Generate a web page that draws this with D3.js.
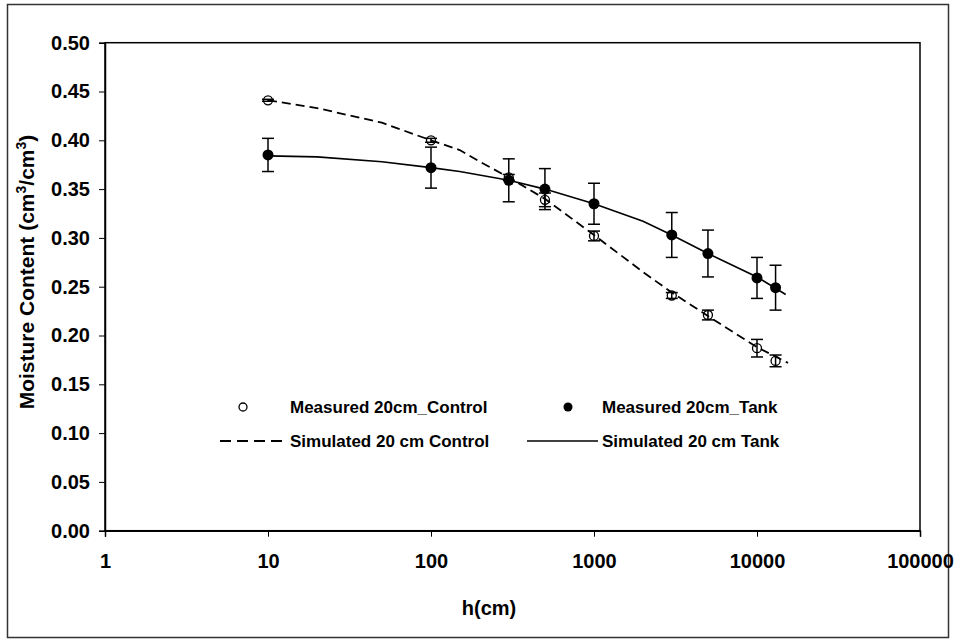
<!DOCTYPE html>
<html>
<head>
<meta charset="utf-8">
<script src="https://cdn.jsdelivr.net/npm/d3@7"></script>
<style>
  html, body { margin: 0; padding: 0; background: #fff; }
  svg { display: block; font-family: "Liberation Sans", Arial, sans-serif; }
</style>
</head>
<body>
<svg id="chart" width="956" height="642"></svg>
<script>
// ---- data ----
const hMeasured = [10, 100, 300, 500, 1000, 3000, 5000, 10000, 13000];
const controlMeasured = [0.441, 0.400, 0.362, 0.339, 0.302, 0.241, 0.221, 0.187, 0.174];
const controlErr = [0.001, 0.002, 0.003, 0.007, 0.005, 0.003, 0.005, 0.009, 0.006];
const tankMeasured = [0.385, 0.372, 0.359, 0.350, 0.335, 0.303, 0.284, 0.259, 0.249];
const tankErr = [0.017, 0.021, 0.022, 0.021, 0.021, 0.023, 0.024, 0.021, 0.023];

const hSimControl = [10, 20, 50, 100, 150, 200, 300, 500, 1000, 2000, 3000, 5000, 10000, 15500];
const controlSim = [0.441, 0.433, 0.418, 0.400, 0.390, 0.378, 0.362, 0.340, 0.303, 0.265, 0.244, 0.220, 0.188, 0.172];
const hSimTank = [10, 20, 50, 100, 150, 300, 500, 1000, 2000, 3000, 5000, 10000, 15000];
const tankSim = [0.384, 0.383, 0.378, 0.372, 0.368, 0.359, 0.350, 0.335, 0.317, 0.303, 0.284, 0.260, 0.242];

const xTicks = [1, 10, 100, 1000, 10000, 100000];
const yTicks = [0, 0.05, 0.10, 0.15, 0.20, 0.25, 0.30, 0.35, 0.40, 0.45, 0.50];

const legendLabels = ["Measured 20cm_Control", "Measured 20cm_Tank", "Simulated 20 cm Control", "Simulated 20 cm Tank"];

// ---- layout ----
const svg = d3.select("#chart");
const plot = { left: 105, right: 920, top: 42.7, bottom: 530.7 };

// outer frame
svg.append("rect").attr("x", 7.5).attr("y", 4.5).attr("width", 941).attr("height", 633)
  .attr("fill", "#fff").attr("stroke", "#333").attr("stroke-width", 1.5);

const x = d3.scaleLog().domain([1, 100000]).range([plot.left, plot.right]);
const y = d3.scaleLinear().domain([0, 0.5]).range([plot.bottom, plot.top]);

// plot area border
svg.append("rect").attr("x", plot.left).attr("y", plot.top)
  .attr("width", plot.right - plot.left).attr("height", plot.bottom - plot.top)
  .attr("fill", "none").attr("stroke", "#000").attr("stroke-width", 1.5);

// axes
const yAxis = d3.axisLeft(y).tickValues(yTicks).tickFormat(d3.format(".2f")).tickSize(6).tickPadding(9);
const gy = svg.append("g").attr("transform", `translate(${plot.left},0)`).call(yAxis);
const xAxis = d3.axisBottom(x).tickValues(xTicks).tickFormat(d3.format("d")).tickSize(6).tickPadding(17);
const gx = svg.append("g").attr("transform", `translate(0,${plot.bottom})`).call(xAxis);
[gx, gy].forEach(g => {
  g.select(".domain").attr("stroke", "#000").attr("stroke-width", 1.5);
  g.selectAll(".tick line").attr("stroke", "#000").attr("stroke-width", 1);
  g.selectAll(".tick text").attr("fill", "#000").attr("font-size", 20).attr("font-weight", "bold")
    .attr("font-family", "'Liberation Sans', Arial, sans-serif");
});

// axis titles
svg.append("text").attr("x", 489).attr("y", 615).attr("text-anchor", "middle")
  .attr("font-size", 20).attr("font-weight", "bold").text("h(cm)");

const yt = svg.append("text").attr("transform", "translate(34,272) rotate(-90)")
  .attr("text-anchor", "middle").attr("font-size", 21).attr("font-weight", "bold");
yt.append("tspan").text("Moisture Content (cm");
yt.append("tspan").attr("font-size", 14).attr("dy", -8).text("3");
yt.append("tspan").attr("dy", 8).text("/cm");
yt.append("tspan").attr("font-size", 14).attr("dy", -8).text("3");
yt.append("tspan").attr("dy", 8).text(")");

// lines
const lineGen = d3.line().x(d => x(d[0])).y(d => y(d[1]));
svg.append("path").datum(hSimControl.map((h, i) => [h, controlSim[i]]))
  .attr("d", lineGen).attr("fill", "none").attr("stroke", "#000")
  .attr("stroke-width", 1.8).attr("stroke-dasharray", "9,5");
svg.append("path").datum(hSimTank.map((h, i) => [h, tankSim[i]]))
  .attr("d", lineGen).attr("fill", "none").attr("stroke", "#000").attr("stroke-width", 1.6);

// error bars
function errorBars(vals, errs) {
  const g = svg.append("g").attr("stroke", "#000").attr("stroke-width", 1.5);
  hMeasured.forEach((h, i) => {
    const cx = x(h), y1 = y(vals[i] + errs[i]), y2 = y(vals[i] - errs[i]);
    g.append("line").attr("x1", cx).attr("x2", cx).attr("y1", y1).attr("y2", y2);
    g.append("line").attr("x1", cx - 6).attr("x2", cx + 6).attr("y1", y1).attr("y2", y1);
    g.append("line").attr("x1", cx - 6).attr("x2", cx + 6).attr("y1", y2).attr("y2", y2);
  });
}
errorBars(controlMeasured, controlErr);
errorBars(tankMeasured, tankErr);

// markers
svg.append("g").selectAll("circle").data(hMeasured.map((h, i) => [h, controlMeasured[i]]))
  .join("circle").attr("cx", d => x(d[0])).attr("cy", d => y(d[1])).attr("r", 4.5)
  .attr("fill", "none").attr("stroke", "#000").attr("stroke-width", 1.3);
svg.append("g").selectAll("circle").data(hMeasured.map((h, i) => [h, tankMeasured[i]]))
  .join("circle").attr("cx", d => x(d[0])).attr("cy", d => y(d[1])).attr("r", 5.5)
  .attr("fill", "#000");

// legend
const lg = svg.append("g").attr("font-size", 17).attr("font-weight", "bold");
const row1 = 407, row2 = 441;
lg.append("circle").attr("cx", 243).attr("cy", row1).attr("r", 4).attr("fill", "none").attr("stroke", "#000").attr("stroke-width", 1.3);
lg.append("text").attr("x", 290).attr("y", row1).attr("dy", "0.35em").text(legendLabels[0]);
lg.append("circle").attr("cx", 568).attr("cy", row1).attr("r", 4.5).attr("fill", "#000");
lg.append("text").attr("x", 602).attr("y", row1).attr("dy", "0.35em").text(legendLabels[1]);
lg.append("line").attr("x1", 220).attr("x2", 286).attr("y1", row2).attr("y2", row2)
  .attr("stroke", "#000").attr("stroke-width", 1.8).attr("stroke-dasharray", "11,6");
lg.append("text").attr("x", 290).attr("y", row2).attr("dy", "0.35em").text(legendLabels[2]);
lg.append("line").attr("x1", 527).attr("x2", 598).attr("y1", row2).attr("y2", row2)
  .attr("stroke", "#000").attr("stroke-width", 1.6);
lg.append("text").attr("x", 602).attr("y", row2).attr("dy", "0.35em").text(legendLabels[3]);
</script>
</body>
</html>
